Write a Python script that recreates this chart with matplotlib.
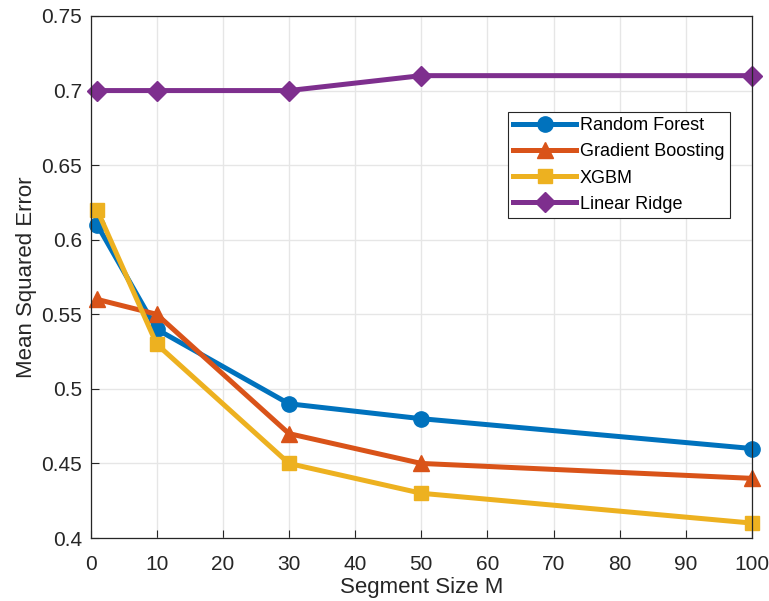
import matplotlib
matplotlib.use("Agg")
import matplotlib.pyplot as plt

plt.rcParams['font.family'] = ['Liberation Sans', 'DejaVu Sans']

# data
seg_size = [1, 10, 30, 50, 100]
random_forest = [0.61, 0.54, 0.49, 0.48, 0.46]
gradient_boosting = [0.56, 0.55, 0.47, 0.45, 0.44]
xgbm = [0.62, 0.53, 0.45, 0.43, 0.41]
linear_ridge = [0.70, 0.70, 0.70, 0.71, 0.71]

x_ticks = [0, 10, 20, 30, 40, 50, 60, 70, 80, 90, 100]
y_ticks = [0.4, 0.45, 0.5, 0.55, 0.6, 0.65, 0.7, 0.75]
y_labels = ['0.4', '0.45', '0.5', '0.55', '0.6', '0.65', '0.7', '0.75']

fig = plt.figure(figsize=(7.69, 6.01), dpi=100)
ax = fig.add_axes([0.1177, 0.1048, 0.9779 - 0.1177, 0.9734 - 0.1048])

lw = 3.6
ax.plot(seg_size, random_forest, '-o', color='#0072BD', lw=lw, ms=11, label='Random Forest', clip_on=False)
ax.plot(seg_size, gradient_boosting, '-^', color='#D95319', lw=lw, ms=12, label='Gradient Boosting', clip_on=False)
ax.plot(seg_size, xgbm, '-s', color='#EDB120', lw=lw, ms=10, label='XGBM', clip_on=False)
ax.plot(seg_size, linear_ridge, '-D', color='#7E2F8E', lw=lw, ms=10, label='Linear Ridge', clip_on=False)

ax.set_xlim(0, 100)
ax.set_ylim(0.4, 0.75)
ax.set_xticks(x_ticks)
ax.set_yticks(y_ticks)
ax.set_yticklabels(y_labels)
ax.grid(True, color='#e6e6e6', lw=1)
ax.set_axisbelow(True)
ax.tick_params(direction='in', labelsize=15, colors='#262626', length=6, width=0.8)
ax.tick_params(axis='x', pad=12)
ax.tick_params(axis='y', pad=6)
for s in ax.spines.values():
    s.set_color('#262626')
    s.set_linewidth(0.9)

ax.set_xlabel('Segment Size M', fontsize=16, color='#262626', labelpad=2.5)
ax.set_ylabel('Mean Squared Error', fontsize=16, color='#262626', labelpad=3)

leg = ax.legend(loc='upper right', bbox_to_anchor=(0.9667, 0.816), fontsize=13,
                fancybox=False, framealpha=1, edgecolor='#262626', borderpad=0.3,
                labelspacing=0.5, handlelength=3.5, handletextpad=0.2, borderaxespad=0)
leg.get_frame().set_linewidth(0.8)

fig.savefig('out.png', dpi=100)
